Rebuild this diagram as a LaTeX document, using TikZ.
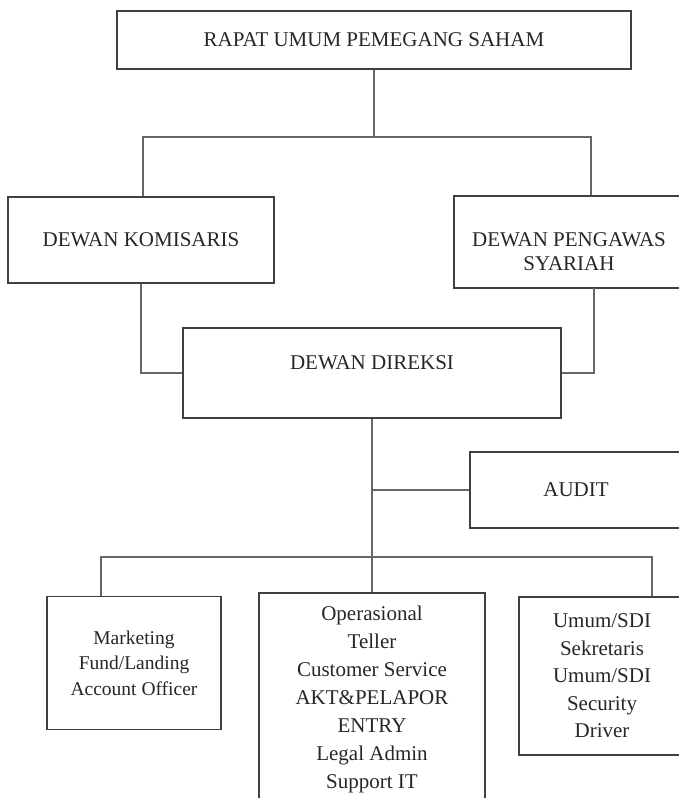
\documentclass[tikz,border=0pt]{standalone}
\usepackage{fontspec}
\setmainfont{Liberation Serif}
\tikzset{
  orgbox/.style={draw=black!75, line width=1.6pt, inner sep=0pt, align=center,
    text=black!85, font=\fontsize{21}{28}\selectfont},
  link/.style={draw=black!60, line width=1.1pt}
}
\begin{document}
\begin{tikzpicture}[x=1pt, y=-1pt]
    \useasboundingbox (0,0) rectangle (679,798);

    % Top levels
    \node[orgbox, minimum width=514pt, minimum height=58pt]
      (rups) at (374,40) {RAPAT UMUM PEMEGANG SAHAM};
    \node[orgbox, minimum width=266pt, minimum height=86pt]
      (dk) at (141,240) {DEWAN KOMISARIS};
    \node[orgbox, minimum width=230pt, minimum height=92pt, font=\fontsize{21}{24}\selectfont]
      (dps) at (569,242) {\rule{0pt}{34pt}DEWAN PENGAWAS\\SYARIAH};
    \node[orgbox, minimum width=378pt, minimum height=90pt]
      (dd) at (372,373) {\raisebox{20pt}{DEWAN DIREKSI}};
    \node[orgbox, minimum width=212pt, minimum height=76pt]
      (audit) at (576,490) {AUDIT};

    % Bottom units
    \node[orgbox, minimum width=174pt, minimum height=133pt, font=\fontsize{19.5}{25.5}\selectfont]
      (mark) at (134,663) {Marketing\\Fund/Landing\\Account Officer};
    \node[orgbox, minimum width=226pt, minimum height=212pt]
      (ops) at (372,699) {Operasional\\Teller\\Customer Service\\AKT\&PELAPOR\\ENTRY\\Legal Admin\\Support IT};
    \node[orgbox, minimum width=166pt, minimum height=158pt, font=\fontsize{21}{27.5}\selectfont]
      (umum) at (602,676) {Umum/SDI\\Sekretaris\\Umum/SDI\\Security\\Driver};

    % Junctions
    \coordinate (dkin) at (143,137);
    \coordinate (dpsin) at (591,137);
    \coordinate (dpsout) at (594,288);
    \coordinate (busL) at (101,557);
    \coordinate (busR) at (652,557);

    % Connectors
    \draw[link] (rups.south) -- (rups.south |- dkin);
    \draw[link] (dkin |- dk.north) -- (dkin) -- (dpsin) -- (dpsin |- dps.north);
    \draw[link] (dk.south) |- (dd.west);
    \draw[link] (dpsout) |- (dd.east);
    \draw[link] (dd.south) -- (ops.north);
    \draw[link] (dd.south |- audit.west) -- (audit.west);
    \draw[link] (busL |- mark.north) -- (busL) -- (busR) -- (busR |- umum.north);
  \end{tikzpicture}
\end{document}
